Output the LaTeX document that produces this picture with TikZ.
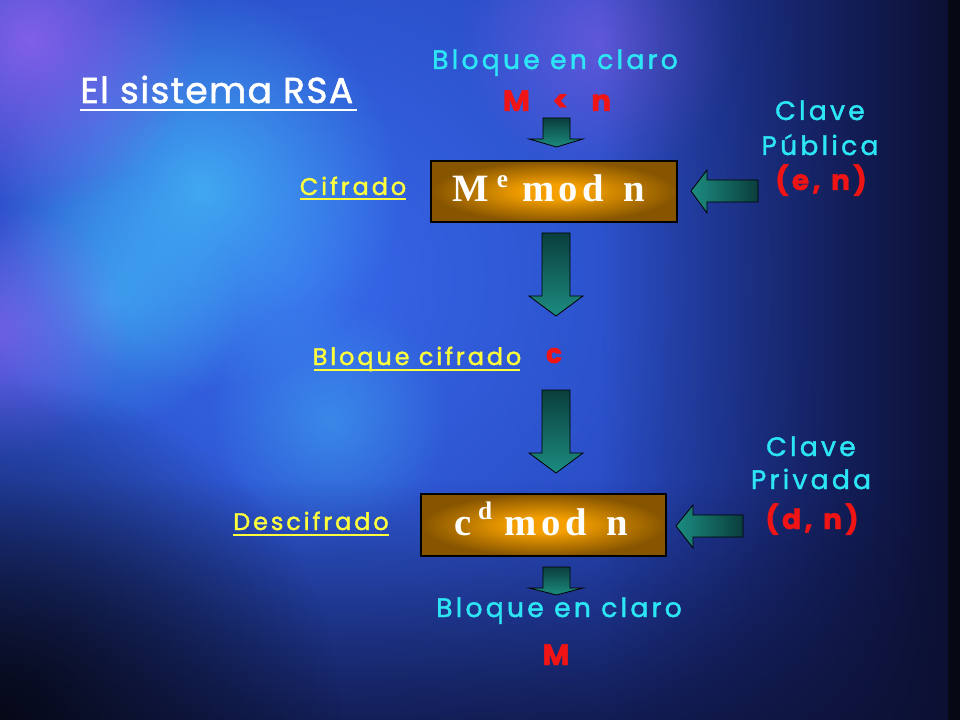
\documentclass[tikz,border=0pt]{standalone}
\usepackage{fontspec}
\usetikzlibrary{fadings}
\newfontfamily\csf[LetterSpace=12,FakeBold=1.5]{Poppins}
\newfontfamily\ttlf[FakeBold=1.5,LetterSpace=4]{Poppins}
\setmainfont{Liberation Serif}
\definecolor{cyanT}{RGB}{45,230,245}
\definecolor{yellowT}{RGB}{255,255,60}
\definecolor{redT}{RGB}{240,20,20}
\definecolor{boxin}{RGB}{245,160,0}
\definecolor{boxout}{RGB}{135,85,0}
\definecolor{arrA}{RGB}{10,62,60}
\definecolor{arrB}{RGB}{28,140,128}
\definecolor{bgbase}{RGB}{36,64,180}
\definecolor{bgblue}{RGB}{55,105,235}
\definecolor{bgcyan}{RGB}{70,200,250}
\definecolor{bgpurple}{RGB}{150,100,240}
\definecolor{bgdark}{RGB}{12,16,50}
\definecolor{bgblack}{RGB}{6,8,20}
\pgfdeclareradialshading{boxsh}{\pgfpoint{0bp}{0bp}}{color(0bp)=(boxin); color(6bp)=(boxin); color(25bp)=(boxout); color(50bp)=(boxout)}
\tikzfading[name=blob, inner color=transparent!0, outer color=transparent!100]
\tikzfading[name=toright, left color=transparent!100, right color=transparent!0]
\tikzfading[name=todown, top color=transparent!100, bottom color=transparent!0]
\tikzset{
  cyantext/.style={text=cyanT, inner sep=0pt, font=\csf\fontsize{20}{22}\selectfont},
  redtext/.style={text=redT, inner sep=0pt, font=\csf\bfseries\fontsize{22}{24}\selectfont},
  yeltext/.style={text=yellowT, inner sep=0pt, font=\csf\fontsize{18}{20}\selectfont},
  uline/.style={yellowT, line width=1.8pt},
  modbox/.style={draw=black, line width=1pt, shading=boxsh},
  boxtext/.style={text=white, inner sep=0pt, font=\bfseries\fontsize{29}{30}\selectfont},
  darrow/.style={draw=black, line width=0.6pt, top color=arrA, bottom color=arrB},
  larrow/.style={draw=black, line width=0.6pt, left color=arrB, right color=arrA},
}
\begin{document}
\begin{tikzpicture}[x=0.75pt,y=-0.75pt]
% background
\fill[bgbase] (0,0) rectangle (960,720);
\useasboundingbox (0,0) rectangle (960,720);
\fill[bgblue, path fading=blob] (300,280) circle (560);
\fill[bgcyan, path fading=blob, opacity=0.7] (200,190) circle (200);
\fill[bgcyan, path fading=blob, opacity=0.5] (110,300) circle (130);
\fill[bgcyan, path fading=blob, opacity=0.4] (330,420) circle (120);
\fill[bgpurple, path fading=blob, opacity=0.8] (30,40) circle (170);
\fill[bgpurple, path fading=blob, opacity=0.6] (0,330) circle (130);
\fill[bgpurple, path fading=blob, opacity=0.5] (600,40) circle (140);
\fill[bgdark, path fading=toright] (600,-20) rectangle (950,740);
\fill[bgdark, path fading=todown, opacity=0.8] (-20,480) rectangle (950,740);
\fill[bgblack, path fading=blob, opacity=0.95] (0,720) circle (340);
\fill[bgblack] (948,-5) rectangle (965,725);

% title
\node[anchor=base west, inner sep=0pt, text=white, font=\ttlf\fontsize{27}{29}\selectfont] (title) at (80,103) {El sistema RSA};
\draw[white, line width=2pt] (title.base west) ++(0,7) -- ++(277,0);

% top input
\node[cyantext, anchor=base] (bc1) at (555,69) {Bloque en claro};
\node[redtext, anchor=base] (mn) at (557,111) {M\hspace{17pt}<\hspace{17pt}n};
\draw[darrow] (543,118) -- (570,118) -- (570,139) -- (583,139) -- (556.5,147) -- (529,139) -- (543,139) -- cycle;

% box 1
\path[modbox] (431,161) rectangle (677,222);
\draw[line width=1pt] (431,161) rectangle (677,222);
\node[boxtext, anchor=base west] (enc) at (452,202) {M\hspace{6pt}\raisebox{11pt}{\fontsize{19}{19}\selectfont e}\hspace{10.5pt}m\hspace{3.5pt}o\hspace{3.5pt}d\hspace{14.5pt}n};
\node[yeltext, anchor=base] (cif) at (353,195) {Cifrado};
\draw[uline] (300,199) -- (406,199);

% public key
\node[cyantext, anchor=base] (cl1) at (820,120) {Clave};
\node[cyantext, anchor=base] (pub) at (820,155) {Pública};
\node[redtext, anchor=base, font=\csf\bfseries\fontsize{21}{23}\selectfont] (en) at (821,190) {(e,\hspace{8pt}n)};
\draw[larrow] (758,180) -- (758,202) -- (707,202) -- (707,213) -- (691,191) -- (707,170) -- (707,180) -- cycle;

% big arrow 1
\draw[darrow] (542,233) -- (570,233) -- (570,296) -- (583,296) -- (556,316) -- (529,296) -- (542,296) -- cycle;

% cipher block
\node[yeltext, anchor=base] (bcif) at (417,365) {Bloque cifrado};
\draw[uline] (314,370) -- (520,370);
\node[redtext, anchor=base, font=\csf\bfseries\fontsize{20}{21}\selectfont] (c) at (554,363) {c};

% big arrow 2
\draw[darrow] (542,390) -- (570,390) -- (570,453) -- (583,453) -- (556,473) -- (529,453) -- (542,453) -- cycle;

% box 2
\path[modbox] (421,494) rectangle (666,556);
\draw[line width=1pt] (421,494) rectangle (666,556);
\node[boxtext, anchor=base west] (dec) at (454,535) {c\hspace{5pt}\raisebox{12pt}{\fontsize{19}{19}\selectfont d}\hspace{9pt}m\hspace{3.5pt}o\hspace{3.5pt}d\hspace{15pt}n};
\node[yeltext, anchor=base] (desc) at (311,530) {Descifrado};
\draw[uline] (233,535) -- (389,535);

% private key
\node[cyantext, anchor=base] (cl2) at (811,456) {Clave};
\node[cyantext, anchor=base] (priv) at (811,489) {Privada};
\node[redtext, anchor=base, font=\csf\bfseries\fontsize{21}{23}\selectfont] (dn) at (812,529) {(d,\hspace{8pt}n)};
\draw[larrow] (743,515) -- (743,537) -- (693,537) -- (693,548) -- (676,526) -- (693,505) -- (693,515) -- cycle;

% bottom output
\draw[darrow] (543,567) -- (570,567) -- (570,588) -- (583,588) -- (556.5,595) -- (529,588) -- (543,588) -- cycle;
\node[cyantext, anchor=base] (bc2) at (559,617) {Bloque en claro};
\node[redtext, anchor=base] (m) at (556,665) {M};
\end{tikzpicture}
\end{document}
